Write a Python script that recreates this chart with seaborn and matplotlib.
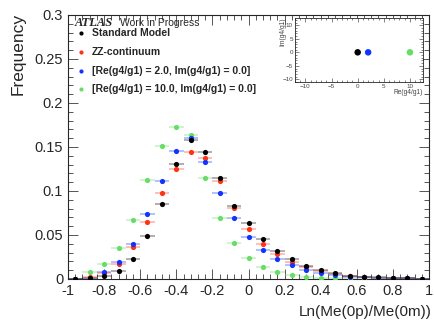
import numpy as np
import pandas as pd
import matplotlib
matplotlib.use("Agg")
import matplotlib.pyplot as plt
from matplotlib.ticker import MultipleLocator
import seaborn as sns

# bin centres of Ln(Me(0p)/Me(0m)), bin width 0.08
bins = [-0.96, -0.88, -0.80, -0.72, -0.64, -0.56, -0.48, -0.40, -0.32, -0.24,
        -0.16, -0.08, 0.00, 0.08, 0.16, 0.24, 0.32, 0.40, 0.48, 0.56,
        0.64, 0.72, 0.80, 0.88, 0.96]

sm = [0.0, 0.0010, 0.0034, 0.0087, 0.0227, 0.0489, 0.0856, 0.1307, 0.1580, 0.1440,
      0.1144, 0.0833, 0.0633, 0.0455, 0.0314, 0.0223, 0.0148, 0.0098, 0.0064, 0.0038,
      0.0027, 0.0019, 0.0011, 0.0008, 0.0005]
zz = [0.0, 0.0027, 0.0064, 0.0174, 0.0364, 0.0652, 0.0977, 0.1254, 0.1440, 0.1370,
      0.1114, 0.0803, 0.0568, 0.0398, 0.0280, 0.0197, 0.0133, 0.0087, 0.0057, 0.0034,
      0.0024, 0.0017, 0.0010, 0.0007, 0.0005]
g4_2 = [0.0, 0.0, 0.0076, 0.0190, 0.0394, 0.0735, 0.1110, 0.1458, 0.1606, 0.1333,
        0.0973, 0.0690, 0.0481, 0.0333, 0.0231, 0.0155, 0.0102, 0.0064, 0.0045, 0.0027,
        0.0019, 0.0015, 0.0009, 0.0006, 0.0004]
g4_10 = [0.0, 0.0083, 0.0167, 0.0356, 0.0670, 0.1125, 0.1508, 0.1724, 0.1636, 0.1144,
         0.0697, 0.0405, 0.0235, 0.0136, 0.0080, 0.0045, 0.0027, 0.0015, 0.0008, 0.0004,
         0.0003, 0.0002, 0.0001, 0.0, 0.0]

x_ticks = [-1, -0.8, -0.6, -0.4, -0.2, 0, 0.2, 0.4, 0.6, 0.8, 1]
x_tick_labels = ["-1", "-0.8", "-0.6", "-0.4", "-0.2", "0", "0.2", "0.4", "0.6", "0.8", "1"]
y_ticks = [0, 0.05, 0.1, 0.15, 0.2, 0.25, 0.3]
y_tick_labels = ["0", "0.05", "0.1", "0.15", "0.2", "0.25", "0.3"]

labels = ["Standard Model", "ZZ-continuum",
          "[Re(g4/g1) = 2.0, Im(g4/g1) = 0.0]",
          "[Re(g4/g1) = 10.0, Im(g4/g1) = 0.0]"]
colors = ["#000000", "#ff3311", "#1133ff", "#66dd66"]
# coupling points shown in the inset (SM, g4=2, g4=10)
inset_re = [0.0, 2.0, 10.0]
inset_im = [0.0, 0.0, 0.0]
inset_colors = ["#000000", "#1133ff", "#66dd66"]

W, H = 434, 324


def fx(x):
    return x / W


def fy(y):
    return 1 - y / H


sns.set_style("ticks")
plt.rcParams["font.family"] = ["Liberation Sans", "DejaVu Sans"]

fig = plt.figure(figsize=(W / 100, H / 100), dpi=100)
ax = fig.add_axes([fx(68), fy(279), fx(429) - fx(68), fy(15) - fy(279)])

series = [sm, zz, g4_2, g4_10]
draw_order = [3, 1, 2, 0]
for i in draw_order:
    df = pd.DataFrame({"x": bins, "y": series[i]})
    ax.errorbar(df["x"], df["y"], xerr=0.04, fmt="none", ecolor=colors[i],
                alpha=0.4, elinewidth=1.1, zorder=2)
    sns.scatterplot(data=df, x="x", y="y", ax=ax, color=colors[i], s=14,
                    linewidth=0, zorder=3)

ax.set_xlabel("")
ax.set_ylabel("")
ax.set_xticks(x_ticks)
ax.set_xticklabels(x_tick_labels)
ax.set_yticks(y_ticks)
ax.set_yticklabels(y_tick_labels)
ax.xaxis.set_minor_locator(MultipleLocator(0.04))
ax.yaxis.set_minor_locator(MultipleLocator(0.01))
ax.set_xlim(-1, 1)
ax.set_ylim(0, 0.3)
ax.tick_params(which="both", direction="in", top=True, right=True, labelsize=10.5,
               width=0.7, color="#555555", pad=3.5)
ax.tick_params(which="major", length=7)
ax.tick_params(which="minor", length=3.5)
for sp in ax.spines.values():
    sp.set_linewidth(0.8)

fig.text(fx(18), fy(13), "Frequency", rotation=90, ha="center", va="top", fontsize=12.5)
fig.text(fx(432), fy(312), "Ln(Me(0p)/Me(0m))", ha="right", va="center", fontsize=11)

# legend block
fig.text(fx(75), fy(22.5), "ATLAS", family="Liberation Serif", weight="bold",
         style="italic", fontsize=9, va="center", ha="left")
fig.text(fx(120), fy(22.5), "Work in Progress", fontsize=7.5, va="center", ha="left")
leg_y = [33.3, 52.3, 70.7, 89]
for lab, col, yy in zip(labels, colors, leg_y):
    fig.text(fx(92), fy(yy), lab, fontsize=7.5, weight="bold", va="center", ha="left")
    ax.scatter([fx(80.5)], [fy(yy)], transform=fig.transFigure, s=9, color=col,
               linewidth=0, clip_on=False, zorder=5)

# inset: coupling plane
ins = fig.add_axes([fx(295), fy(82.3), fx(423) - fx(295), fy(18.3) - fy(82.3)])
ins.set_facecolor("white")
pts = pd.DataFrame({"re": inset_re, "im": inset_im, "c": inset_colors})
sns.scatterplot(data=pts, x="re", y="im", hue="c",
                palette=dict(zip(inset_colors, inset_colors)),
                s=22, linewidth=0, legend=False, ax=ins)
ins.set_xlim(-12, 12.5)
ins.set_ylim(-11.1, 12.6)
ins.set_xlabel("")
ins.set_ylabel("")
ins.xaxis.set_major_locator(MultipleLocator(5))
ins.xaxis.set_minor_locator(MultipleLocator(1))
ins.yaxis.set_major_locator(MultipleLocator(5))
ins.yaxis.set_minor_locator(MultipleLocator(1))
ins.tick_params(which="both", direction="in", top=True, right=True, labelsize=4.5,
                width=0.5, color="#555555", labelcolor="#444444", pad=1.5)
ins.tick_params(which="major", length=3)
ins.tick_params(which="minor", length=1.5)
for sp in ins.spines.values():
    sp.set_linewidth(0.6)
fig.text(fx(423), fy(93), "Re(g4/g1)", ha="right", va="center", fontsize=4.8, color="#444444")
fig.text(fx(283), fy(18), "Im(g4/g1)", ha="center", va="top", rotation=90,
         fontsize=4.8, color="#444444")

fig.savefig("out.png", dpi=100)
